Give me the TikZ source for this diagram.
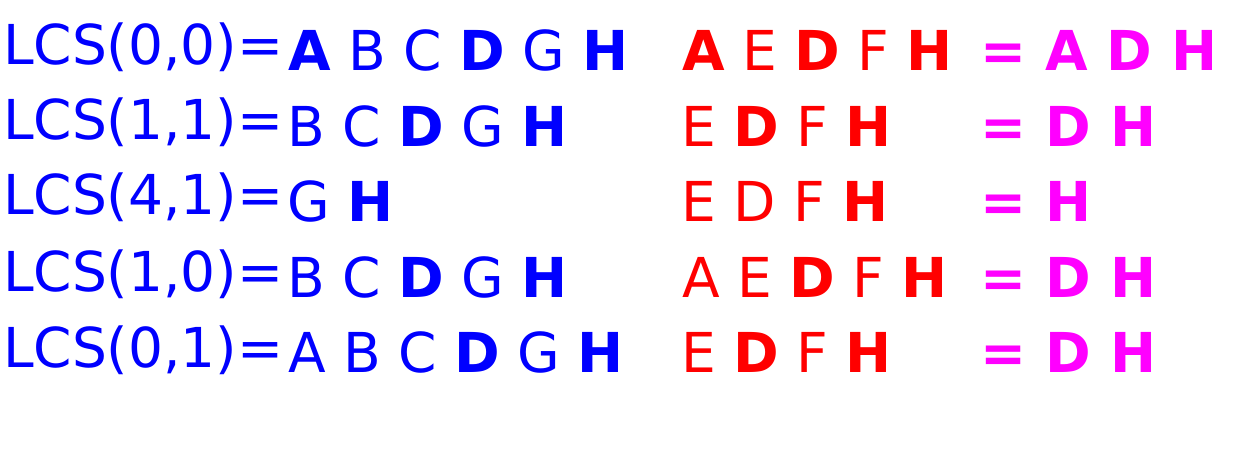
\documentclass[tikz,border=0pt]{standalone}
\usepackage{fontspec}
\setmainfont{DejaVu Sans}
\definecolor{cblue}{RGB}{0,0,255}
\definecolor{cred}{RGB}{255,0,0}
\definecolor{cmag}{RGB}{255,0,255}
\begin{document}
\begin{tikzpicture}[x=1pt,y=-1pt,
  txt/.style={inner sep=0pt, outer sep=0pt, anchor=base west, font=\fontsize{55}{66}\selectfont},
  bluetxt/.style={txt, text=cblue},
  redtxt/.style={txt, text=cred},
  magtxt/.style={txt, text=cmag}]
\useasboundingbox (0,0) rectangle (1248,454);
% left labels
\node[bluetxt] (l1) at (3,65)  {LCS(0,0)=};
\node[bluetxt] (l2) at (3,140) {LCS(1,1)=};
\node[bluetxt] (l3) at (3,215) {LCS(4,1)=};
\node[bluetxt] (l4) at (3,292) {LCS(1,0)=};
\node[bluetxt] (l5) at (3,367) {LCS(0,1)=};
% blue sequences
\node[bluetxt] (a1) at (288,71)  {\textbf{A} B C \textbf{D} G \textbf{H}};
\node[bluetxt] (a2) at (287,147) {B C \textbf{D} G \textbf{H}};
\node[bluetxt] (a3) at (287,222) {G \textbf{H}};
\node[bluetxt] (a4) at (287,298) {B C \textbf{D} G \textbf{H}};
\node[bluetxt] (a5) at (288,373) {A B C \textbf{D} G \textbf{H}};
% red sequences
\node[redtxt] (b1) at (682,71)  {\textbf{A} E \textbf{D} F \textbf{H}};
\node[redtxt] (b2) at (681,147) {E \textbf{D} F \textbf{H}};
\node[redtxt] (b3) at (681,222) {E D F \textbf{H}};
\node[redtxt] (b4) at (682,298) {A E \textbf{D} F \textbf{H}};
\node[redtxt] (b5) at (681,373) {E \textbf{D} F \textbf{H}};
% magenta results
\node[magtxt] (c1) at (980,71)  {\textbf{= A D H}};
\node[magtxt] (c2) at (980,147) {\textbf{= D H}};
\node[magtxt] (c3) at (980,222) {\textbf{= H}};
\node[magtxt] (c4) at (980,298) {\textbf{= D H}};
\node[magtxt] (c5) at (980,373) {\textbf{= D H}};
\end{tikzpicture}
\end{document}
